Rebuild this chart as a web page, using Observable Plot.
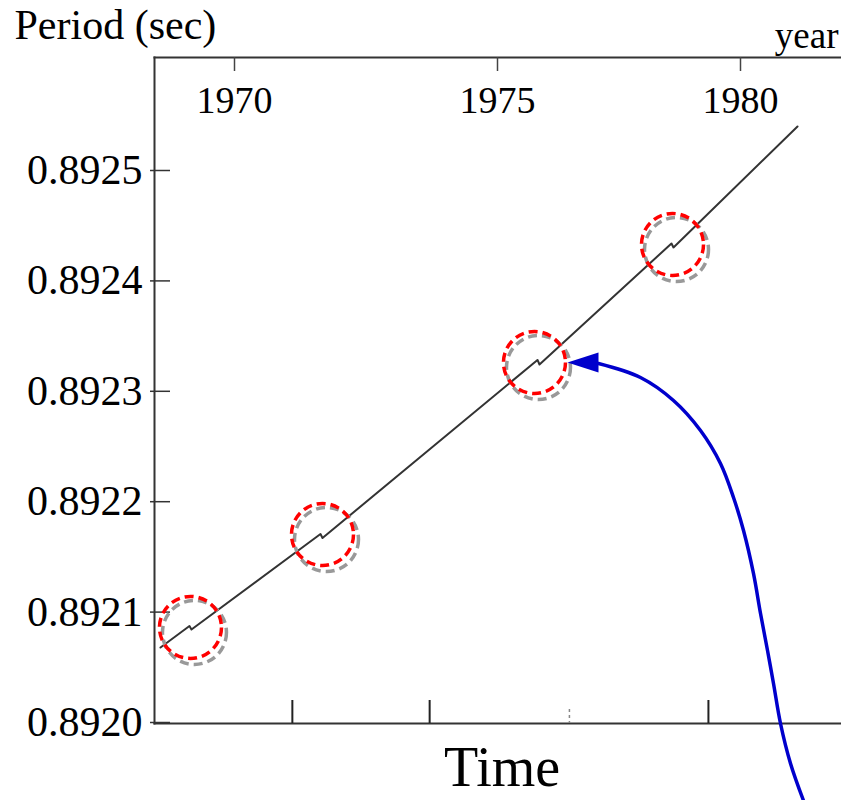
<!DOCTYPE html>
<html><head><meta charset="utf-8">
<script src="https://cdn.jsdelivr.net/npm/d3@7"></script>
<script src="https://cdn.jsdelivr.net/npm/@observablehq/plot@0.6"></script>
<style>
body{margin:0;background:#fff}
svg{font-family:"Liberation Serif","Times New Roman",serif;}
</style>
</head><body><div id="chart"></div>
<script>
// Pulsar period trace (year, period in seconds), including the small glitch steps
const traceYears   = [1968.593, 1969.144, 1969.182, 1971.635, 1971.673, 1975.823, 1975.864, 1978.580, 1978.621, 1981.173];
const tracePeriods = [0.8920679, 0.8920874, 0.8920842, 0.8921707, 0.8921671, 0.8923284, 0.8923243, 0.8924339, 0.8924303, 0.8925399];

// Glitch highlight circles
const circleYears   = [1969.163, 1971.673, 1975.761, 1978.601];
const circlePeriods = [0.8920861, 0.8921703, 0.8923261, 0.8924330];

// Axis ticks
const yTicks = [0.8920, 0.8921, 0.8922, 0.8923, 0.8924, 0.8925];
const topYearTicks = [1970, 1975, 1980];
const bottomTicks = [1971.10, 1973.71, 1979.34];
const bottomFaintTicks = [1976.48];

// Annotation arrow path (year, period) and its tip
const arrowYears   = [1977.078, 1977.942, 1978.621, 1979.177, 1979.588, 1979.856, 1980.062, 1980.267, 1980.412, 1980.556, 1980.679, 1980.823, 1981.029, 1981.296];
const arrowPeriods = [0.8923252, 0.8923125, 0.8922917, 0.8922645, 0.8922346, 0.8922038, 0.8921739, 0.8921350, 0.8920987, 0.8920652, 0.8920353, 0.8919991, 0.8919629, 0.8919293];
const arrowTipYear = [1976.44];
const arrowTipPeriod = [0.8923261];

// Texts
const yTitle = "Period (sec)";
const xTitle = "Time";
const xUnit = "year";

const trace = traceYears.map((x, i) => ({x, y: tracePeriods[i]}));
const circles = circleYears.map((x, i) => ({x, y: circlePeriods[i]}));
const arrowPath = arrowYears.map((x, i) => ({x, y: arrowPeriods[i]}));
const tip = arrowTipYear.map((x, i) => ({x, y: arrowTipPeriod[i]}));

const W = 841, H = 800, mL = 154, mT = 57, mB = 77, mR = 0;
const plotW = W - mL - mR, plotH = H - mT - mB;

const arrowHead = {
  draw(context) {
    context.moveTo(0, 0);
    context.lineTo(31, -10);
    context.lineTo(31, 10);
    context.closePath();
  }
};

const chart = Plot.plot({
  width: W, height: H,
  marginLeft: mL, marginTop: mT, marginBottom: mB, marginRight: mR,
  x: {type: "linear", domain: [1970, 1975, 1980], range: [234, 497, 740], axis: null},
  y: {type: "linear", domain: [0.8920, 0.8925], range: [722, 170], axis: null},
  marks: [
    Plot.frame({anchor: "left", stroke: "#333", strokeWidth: 2}),
    Plot.frame({anchor: "top", stroke: "#333", strokeWidth: 2}),
    Plot.frame({anchor: "bottom", stroke: "#333", strokeWidth: 2}),
    Plot.tickY(yTicks, {y: d => d, insetLeft: -4, insetRight: plotW - 16, stroke: "#333", strokeWidth: 1.5}),
    Plot.tickX(topYearTicks, {x: d => d, insetBottom: plotH - 14, stroke: "#444", strokeWidth: 1.5}),
    Plot.tickX(bottomTicks, {x: d => d, insetTop: plotH - 23, stroke: "#222", strokeWidth: 2}),
    Plot.tickX(bottomFaintTicks, {x: d => d, insetTop: plotH - 14, stroke: "#888", strokeWidth: 1.5, strokeDasharray: "3,3"}),
    Plot.axisY(yTicks, {tickSize: 0, tickPadding: 12, tickFormat: d3.format(".4f"), fontSize: 42, fill: "#000", label: null}),
    Plot.text(topYearTicks, {x: d => d, frameAnchor: "top", dy: 43, text: d => String(d), fontSize: 38, fill: "#000", lineAnchor: "middle"}),
    Plot.line(trace, {x: "x", y: "y", stroke: "#333", strokeWidth: 2}),
    Plot.dot(circles, {x: "x", y: "y", r: 32, dx: 4, dy: 5, stroke: "#999", strokeWidth: 3.5, strokeDasharray: "9,5", fill: "none"}),
    Plot.dot(circles, {x: "x", y: "y", r: 31, stroke: "#ff0000", strokeWidth: 3.5, strokeDasharray: "9,5", fill: "none"}),
    Plot.line(arrowPath, {x: "x", y: "y", stroke: "#0000cc", strokeWidth: 3.5, curve: "catmull-rom"}),
    Plot.dot(tip, {x: "x", y: "y", symbol: arrowHead, r: 10, fill: "#0000cc", stroke: "none"}),
    Plot.text([yTitle], {frameAnchor: "top-left", dx: -140, dy: -19, textAnchor: "start", lineAnchor: "bottom", fontSize: 42, fill: "#000"}),
    Plot.text([xUnit], {frameAnchor: "top-right", dx: -3, dy: -10, textAnchor: "end", lineAnchor: "bottom", fontSize: 37, fill: "#000"}),
    Plot.text([xTitle], {frameAnchor: "bottom", dx: 4, dy: 62, lineAnchor: "bottom", fontSize: 56, fill: "#000"})
  ]
});
document.getElementById("chart").appendChild(chart);
</script>
</body></html>
